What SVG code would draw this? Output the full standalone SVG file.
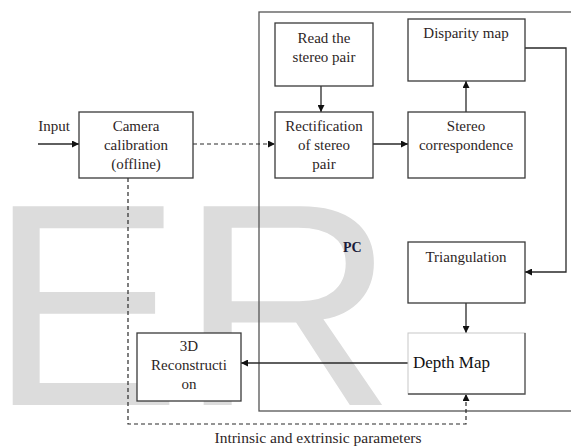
<svg xmlns="http://www.w3.org/2000/svg" width="571" height="448" viewBox="0 0 571 448">
<style>
.box{fill:#fff;stroke:#3a3a3a;stroke-width:1.3}
.lb{font-family:"Liberation Serif","Times New Roman",serif;font-size:15px;fill:#2e1f1f;text-anchor:middle}
.ln{fill:none;stroke:#2a2a2a;stroke-width:1.3}
.dash{fill:none;stroke:#2a2a2a;stroke-width:1.2;stroke-dasharray:4 3}
.wmk{font-family:"Liberation Sans",Arial,sans-serif;font-size:289px;fill:#dcdcdc}
</style>
<defs>
<marker id="ah" viewBox="0 0 10 10" refX="10" refY="5" markerWidth="7" markerHeight="7" markerUnits="userSpaceOnUse" orient="auto">
<path d="M0,0 L10,5 L0,10 z" fill="#111"/>
</marker>
</defs>
<rect width="571" height="448" fill="#fff"/>
<g id="watermark">
<text class="wmk" x="-11" y="405">E</text>
<text class="wmk" x="0" y="405" transform="translate(179,0) scale(1.04,1)">R</text>
</g>
<g id="pc">
<rect x="259" y="12" width="330" height="399" fill="none" stroke="#555" stroke-width="1.3"/>
<text x="343" y="252" font-family="Liberation Serif, serif" font-size="14" font-weight="bold" fill="#1a1a3a">PC</text>
</g>
<g id="connectors">
<line class="ln" x1="38" y1="144" x2="79" y2="144" marker-end="url(#ah)"/>
<line class="dash" x1="193" y1="144" x2="275" y2="144" marker-end="url(#ah)"/>
<line class="ln" x1="321" y1="86" x2="321" y2="112" marker-end="url(#ah)"/>
<line class="ln" x1="373" y1="144" x2="408" y2="144" marker-end="url(#ah)"/>
<line class="ln" x1="466" y1="112" x2="466" y2="81" marker-end="url(#ah)"/>
<polyline class="ln" points="525,48 566,48 566,272 525,272" marker-end="url(#ah)"/>
<line class="ln" x1="466" y1="303" x2="466" y2="333" marker-end="url(#ah)"/>
<line class="ln" x1="408" y1="363" x2="241" y2="363" marker-end="url(#ah)"/>
<polyline class="dash" points="128,178 128,424 466,424 466,394" marker-end="url(#ah)"/>
</g>
<g id="input">
<text class="lb" x="54" y="131">Input</text>
</g>
<g id="camera">
<rect class="box" x="79" y="112" width="114" height="66"/>
<text class="lb" x="136" y="131">Camera</text>
<text class="lb" x="136" y="150">calibration</text>
<text class="lb" x="136" y="169">(offline)</text>
</g>
<g id="read">
<rect class="box" x="275" y="23" width="98" height="63"/>
<text class="lb" x="324" y="43">Read the</text>
<text class="lb" x="324" y="62">stereo pair</text>
</g>
<g id="rectification">
<rect class="box" x="275" y="112" width="98" height="66"/>
<text class="lb" x="324" y="131">Rectification</text>
<text class="lb" x="324" y="150">of stereo</text>
<text class="lb" x="324" y="169">pair</text>
</g>
<g id="disparity">
<rect class="box" x="408" y="19" width="117" height="62"/>
<text class="lb" x="466" y="38">Disparity map</text>
</g>
<g id="stereo">
<rect class="box" x="408" y="112" width="117" height="66"/>
<text class="lb" x="466" y="131">Stereo</text>
<text class="lb" x="466" y="150">correspondence</text>
</g>
<g id="triangulation">
<rect class="box" x="408" y="242" width="117" height="61"/>
<text class="lb" x="466" y="262">Triangulation</text>
</g>
<g id="depth">
<rect x="408" y="333" width="117" height="61" fill="#fff" stroke="#c8c8c8" stroke-width="1"/>
<polyline points="525,333 525,394 408,394" fill="none" stroke="#555" stroke-width="1.3"/>
<text x="413" y="368" font-family="Liberation Serif, serif" font-size="17" fill="#111">Depth Map</text>
</g>
<g id="reconstruction">
<rect class="box" x="137" y="333" width="104" height="68"/>
<text class="lb" x="189" y="351">3D</text>
<text class="lb" x="189" y="370">Reconstructi</text>
<text class="lb" x="189" y="389">on</text>
</g>
<g id="label">
<text class="lb" x="318" y="443" style="font-size:15.5px">Intrinsic and extrinsic parameters</text>
</g>
</svg>
